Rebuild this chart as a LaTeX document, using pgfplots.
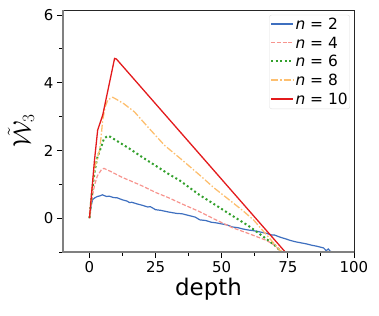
\documentclass[border=0pt]{standalone}
\usepackage{fontspec}
\setmainfont{DejaVu Sans}
\usepackage{pgfplots}
\pgfplotsset{compat=1.18}
\definecolor{cblue}{HTML}{3E6FBF}
\definecolor{csalmon}{HTML}{F7948E}
\definecolor{cgreen}{HTML}{33A02C}
\definecolor{corange}{HTML}{FDBF6F}
\definecolor{cred}{HTML}{E31A1C}
\begin{document}
\begin{tikzpicture}
\path[use as bounding box] (-63bp,-64bp) rectangle (316bp,252bp);
\begin{axis}[
  at={(0,0)}, anchor=south west,
  scale only axis, width=291bp, height=242bp,
  xmin=-10, xmax=100, ymin=-1, ymax=6.15,
  xtick={0,25,50,75,100}, ytick={0,2,4,6},
  minor xtick={12.5,37.5,62.5,87.5}, minor ytick={-1,1,3,5},
  tick align=outside, tick pos=left,
  major tick length=6bp, minor tick length=3.5bp,
  every tick/.style={black, line width=0.9bp},
  axis line style={line width=0.9bp, black!85},
  /pgf/number format/assume math mode=true,
  ticklabel style={font=\fontsize{15}{15}\selectfont},
  xlabel={depth},
  xlabel style={font=\fontsize{23}{24}\selectfont, yshift=2bp},
  ylabel={\fontsize{26}{28}\selectfont$\tilde{\mathcal{W}}_3$},
  ylabel style={yshift=3bp},
  legend style={at={(rel axis cs:0.986,0.98)}, anchor=north east,
    draw=black!12, rounded corners=2bp, fill=white,
    font=\fontsize{15.5}{16}\selectfont, inner xsep=0.5bp, inner ysep=1bp,
    row sep=1.8bp, nodes={inner xsep=1.5bp, inner ysep=2bp}},
  legend cell align=left,
  legend image code/.code={\draw[#1] (0bp,0.6bp) -- (22bp,0.6bp);},
]
\addlegendimage{cblue, line width=1.6bp}
\addlegendentry{\itshape n\upshape\ = 2}
\addlegendimage{csalmon, line width=1.5bp, dash pattern=on 4bp off 1.8bp}
\addlegendentry{\itshape n\upshape\ = 4}
\addlegendimage{cgreen, line width=2bp, dash pattern=on 2bp off 2.6bp}
\addlegendentry{\itshape n\upshape\ = 6}
\addlegendimage{corange, line width=1.5bp, dash pattern=on 7bp off 2bp on 1.5bp off 2bp}
\addlegendentry{\itshape n\upshape\ = 8}
\addlegendimage{cred, line width=1.8bp}
\addlegendentry{\itshape n\upshape\ = 10}
\addplot[forget plot, cblue, line width=1.2bp] coordinates {
(0,0) (0.6,0.35) (1.2,0.55) (2,0.6) (3,0.64) (4,0.66) (4.9,0.69) (5.5,0.67) (6.5,0.64) (7.5,0.65) (9,0.61) (10.5,0.6) (12.5,0.54) (14,0.51) (15.2,0.46) (16,0.47) (18,0.42) (20,0.38) (22,0.33) (23,0.34) (25,0.25) (27,0.23) (30,0.18) (33,0.14) (35,0.13) (37,0.09) (40,0.03) (41.7,-0.05) (44,-0.07) (46,-0.12) (48,-0.14) (50,-0.17) (52,-0.2) (54,-0.26) (56,-0.28) (58,-0.32) (60,-0.35) (62,-0.37) (64,-0.4) (67,-0.45) (69,-0.5) (70,-0.5) (72,-0.56) (74.5,-0.62) (76,-0.66) (78,-0.7) (80,-0.73) (82,-0.76) (84,-0.8) (86,-0.83) (87.5,-0.86) (88.5,-0.88) (89.5,-0.96) (90.3,-0.91) (91,-0.98) (92,-1.0)};
\addplot[forget plot, csalmon, line width=1.2bp, dash pattern=on 4bp off 1.8bp] coordinates {
(0,0) (1,0.6) (2,1.0) (3,1.25) (4.5,1.43) (5.5,1.47) (8,1.38) (12.5,1.2) (15,1.12) (20,0.95) (25,0.76) (30,0.6) (35,0.42) (41.7,0.19) (47,-0.02) (54,-0.28) (60,-0.45) (67,-0.66) (70,-0.8) (72.5,-1.0)};
\addplot[forget plot, cgreen, line width=2bp, dash pattern=on 2bp off 2.6bp] coordinates {
(0,0) (1,0.8) (2,1.4) (3,1.8) (4.4,2.1) (5.5,2.35) (6.9,2.43) (8,2.4) (10,2.3) (15,2.06) (20,1.8) (25,1.55) (30,1.3) (34,1.12) (41.7,0.68) (47,0.42) (53,0.12) (60,-0.22) (67,-0.62) (70,-0.8) (72.6,-1.0)};
\addplot[forget plot, corange, line width=1.3bp, dash pattern=on 7bp off 2bp on 1.5bp off 2bp] coordinates {
(0,0) (1,0.9) (2,1.5) (3.8,2.0) (4.4,2.4) (5,2.9) (6,3.3) (7,3.5) (8.8,3.57) (10,3.52) (13,3.38) (17,3.14) (22,2.7) (28.4,2.15) (35,1.72) (41.7,1.27) (47,0.9) (53,0.53) (58,0.22) (62,-0.05) (67,-0.5) (72,-0.95) (73,-1.0)};
\addplot[forget plot, cred, line width=1.3bp] coordinates {
(0,0) (1.9,1.71) (3.1,2.6) (5,3.04) (9.5,4.72) (10.2,4.7) (74,-1.0)};
\end{axis}
\draw[black!50, line width=1.3bp] (0,0) -- (0,242bp);
\draw[black!50, line width=1.5bp] (-0.6bp,0) -- (291bp,0);
\end{tikzpicture}
\end{document}
